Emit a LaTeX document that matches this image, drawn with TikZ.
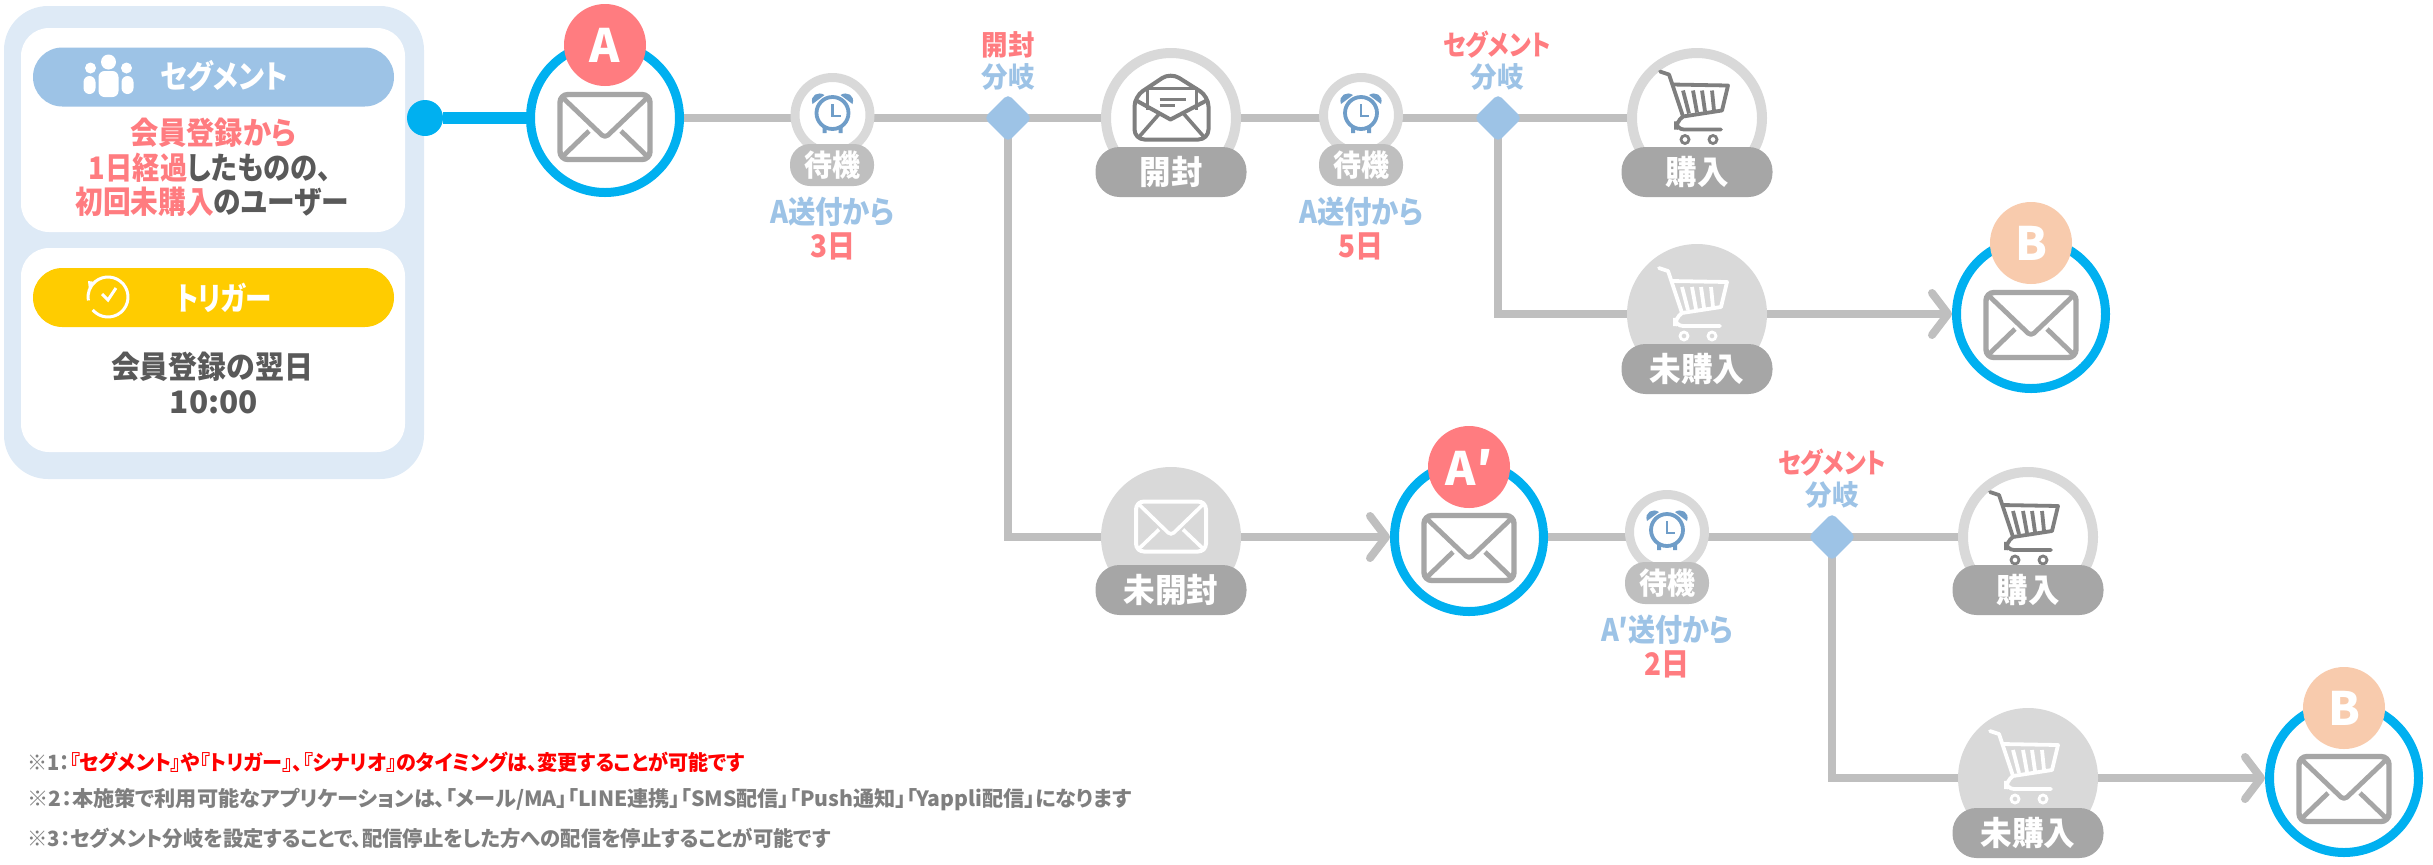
\documentclass[tikz,border=0pt]{standalone}
\usepackage{graphicx}
\usepackage{fontspec}
\setmainfont{Noto Sans CJK JP}[RawFeature=+palt]
\usetikzlibrary{arrows.meta,shapes.geometric}
\pgfdeclarelayer{bg}\pgfsetlayers{bg,main}
\newdimen\pxu \pxu=0.5pt
\newcommand\tw[2]{\resizebox{#1\pxu}{\height}{#2}}
\newcommand\fsz[1]{\bfseries\fontsize{#1}{#1}\selectfont}
\definecolor{panelc}{HTML}{DEEAF6}
\definecolor{segc}{HTML}{9DC3E6}
\definecolor{trigc}{HTML}{FFCC00}
\definecolor{pinkc}{HTML}{FF7C80}
\definecolor{peachc}{HTML}{F8CBAD}
\definecolor{cyanc}{HTML}{00B0F0}
\definecolor{lineg}{HTML}{BFBFBF}
\definecolor{ringg}{HTML}{D9D9D9}
\definecolor{pillg}{HTML}{A6A6A6}
\definecolor{darkg}{HTML}{595959}
\definecolor{noteg}{HTML}{7F7F7F}
\definecolor{clockc}{HTML}{6F9DC8}
\tikzset{
 panel/.style={rectangle,fill=panelc,minimum width=210pt,minimum height=236.5pt,rounded corners=22pt},
 whitebox/.style={rectangle,fill=white,minimum width=192pt,minimum height=102pt,rounded corners=14pt},
 headpill/.style={rectangle,minimum width=180.5pt,minimum height=29.5pt,rounded corners=14.7pt},
 conn/.style={draw=lineg,line width=4pt},
 arrowconn/.style={conn,-{Straight Barb[length=8pt,width=21pt,round]}},
 mailc/.style={circle,draw=cyanc,line width=4.5pt,fill=white,minimum size=74.5pt,inner sep=0pt},
 badge/.style={circle,minimum size=41pt,inner sep=0pt,text=white,font=\fsz{23}},
 waitc/.style={circle,draw=ringg,line width=4.5pt,fill=white,minimum size=37.5pt,inner sep=0pt},
 waitp/.style={rectangle,fill=lineg,minimum width=42pt,minimum height=21pt,rounded corners=10pt,text=white,font=\fsz{15},inner sep=0pt},
 bigc/.style={circle,draw=ringg,line width=5pt,fill=white,minimum size=65pt,inner sep=0pt},
 bigf/.style={circle,fill=ringg,minimum size=70pt,inner sep=0pt},
 statep/.style={rectangle,fill=pillg,minimum width=75.5pt,minimum height=25pt,rounded corners=12pt,text=white,font=\fsz{16.5},inner sep=0pt},
 dia/.style={diamond,fill=segc,minimum width=24pt,minimum height=24pt,inner sep=0pt,rounded corners=2.5pt},
 lab/.style={font=\fsz{14},inner sep=0pt},
 info/.style={font=\fsz{15.5},inner sep=0pt},
 note/.style={font=\fsz{10.5},inner sep=0pt,anchor=west,text=noteg},
 pics/envl/.style={code={
   \draw[#1,line width=2.7pt,rounded corners=4pt] (-45,-32.5) rectangle (45,32.5);
   \draw[#1,line width=2.4pt,line join=round,rounded corners=2pt] (-44,-31) -- (0,11) -- (44,-31);
   \draw[#1,line width=2.4pt] (-44,31) -- (-16,4) (44,31) -- (16,4);
 }},
 pics/envs/.style={code={
   \draw[#1,line width=2pt,rounded corners=4pt] (-35,-25) rectangle (35,25);
   \draw[#1,line width=1.8pt,rounded corners=2pt] (-34,-24) -- (0,9) -- (34,-24);
   \draw[#1,line width=1.8pt] (-34,24) -- (-12,3) (34,24) -- (12,3);
 }},
 pics/envo/.style={code={
   \draw[#1,line width=2pt,line join=round,rounded corners=5pt] (-37,-10) -- (-1,-34) -- (37,-10) -- (37,33) -- (-37,33) -- cycle;
   \draw[#1,line width=1.6pt,fill=white] (-24,3) -- (-24,-18) -- (25,-18) -- (25,3);
   \draw[#1,line width=1.6pt] (-12,-7) -- (14,-7) (-12,-1) -- (3,-1);
   \draw[#1,line width=2pt,line join=round] (-37,-7) -- (-1,13) -- (37,-7);
   \draw[#1,line width=1.8pt] (-33,31) -- (-12,7) (33,31) -- (12,7);
 }},
 pics/cart/.style={code={
   \draw[#1,line width=1.9pt,line cap=round,line join=round] (-34,-36) -- (-25,-33) -- (-11,9);
   \draw[#1,line width=1.9pt,line join=round] (-22,-23) -- (34,-22) -- (28,3) -- (-11,9);
   \draw[#1,line width=1.9pt,line cap=round,rounded corners=4pt] (-11,9) -- (-18,14) -- (-18,22) -- (27,22);
   \draw[#1,line width=1.9pt] (-11,-17) -- (-5,6) (-1,-17) -- (3,5) (8,-17) -- (11,4) (18,-17) -- (20,3);
   \draw[#1,line width=1.4pt] (-9,32) circle (4) (19,32) circle (4);
 }},
 pics/alarm/.style={code={
   \draw[clockc,line width=1.9pt] (0,0) circle (16);
   \fill[clockc] (-20,-9) .. controls (-23,-18) and (-14,-22) .. (-8,-18) -- cycle;
   \fill[clockc] (20,-9) .. controls (23,-18) and (14,-22) .. (8,-18) -- cycle;
   \draw[clockc,line width=1.3pt] (0,-9) -- (0,3) -- (8,3);
   \fill[clockc] (-10,13) rectangle (-6,20) (6,13) rectangle (10,20);
 }},
 pics/people/.style={code={
   \fill[white] (0,-14) circle (7.5) (-18,-8) circle (5.5) (18,-8) circle (5.5);
   \fill[white,rounded corners=3pt] (-10,-5) rectangle (10,21) (-25,0) rectangle (-13,18) (13,0) rectangle (25,18);
 }},
 pics/tickclock/.style={code={
   \draw[white,line width=1.5pt] (140:20) arc (140:-190:20);
   \fill[white] (-19,-7) -- (-12,-15) -- (-20,-16) -- cycle;
   \draw[white,line width=1.5pt] (-6,-3) -- (0,3) -- (8,-9);
 }}
}
\begin{document}
\begin{tikzpicture}[x=0.5pt,y=-0.5pt]
\useasboundingbox (0,0) rectangle (2433,864);
% left panel
\node[panel] (pan) at (214,242.5) {};
\node[whitebox] (wb1) at (213,130) {};
\node[whitebox] (wb2) at (213,350) {};
\node[headpill,fill=segc] (segp) at (213.5,77) {};
\node[headpill,fill=trigc] (trigp) at (213.5,297.5) {};
\pic at (108.5,76) {people};
\pic at (108,297) {tickclock};
\node[info,text=white,font=\fsz{16}] (segt) at (224,76) {\tw{128}{セグメント}};
\node[info,text=white,font=\fsz{16}] (trigt) at (224,298) {\tw{96}{トリガー}};
\node[info,text=pinkc] (s1) at (213,133) {\tw{166}{会員登録から}};
\node[info,text=darkg] (s2) at (210,168) {\tw{242}{\textcolor{pinkc}{1日経過}したものの、}};
\node[info,text=darkg] (s3) at (212,202) {\tw{273}{\textcolor{pinkc}{初回未購入}のユーザー}};
\node[info,text=darkg] (t1) at (212,367) {\tw{202}{会員登録の翌日}};
\node[info,text=darkg] (t2) at (214,402) {\tw{88}{10:00}};
\node[circle,fill=cyanc,minimum size=18pt,inner sep=0pt] (dot) at (425,118) {};
% mails
\node[mailc] (mailA) at (605,118) {};
\pic at (605,127) {envl=pillg};
\node[badge,fill=pinkc] (bA) at (605,45) {A};
\node[mailc] (mailB1) at (2031,314) {};
\pic at (2031,325) {envl=pillg};
\node[badge,fill=peachc] (bB1) at (2031,243) {B};
\node[mailc] (mailAp) at (1469,537) {};
\pic at (1469,548) {envl=pillg};
\node[badge,fill=pinkc] (bAp) at (1469,467) {A′};
\node[mailc] (mailB2) at (2344,778) {};
\pic at (2344,789) {envl=pillg};
\node[badge,fill=peachc] (bB2) at (2344,708) {B};
% waits
\node[waitc] (w1) at (832.5,115) {};
\pic at (832.5,113) {alarm};
\node[waitp] (w1p) at (832,165) {\tw{56}{待機}};
\node[waitc] (w2) at (1361,115) {};
\pic at (1361,113) {alarm};
\node[waitp] (w2p) at (1361,165) {\tw{56}{待機}};
\node[waitc] (w3) at (1667,532) {};
\pic at (1667,530) {alarm};
\node[waitp] (w3p) at (1667,583) {\tw{56}{待機}};
\node[info,text=segc] (w1a) at (832,212) {\tw{124}{A送付から}};
\node[info,text=pinkc] (w1b) at (833,246) {\tw{45}{3日}};
\node[info,text=segc] (w2a) at (1361,212) {\tw{124}{A送付から}};
\node[info,text=pinkc] (w2b) at (1361,246) {\tw{45}{5日}};
\node[info,text=segc] (w3a) at (1667,630) {\tw{132}{A′送付から}};
\node[info,text=pinkc] (w3b) at (1667,664) {\tw{45}{2日}};
% diamonds
\node[dia] (d1) at (1008,118) {};
\node[dia] (d2) at (1498,118) {};
\node[dia] (d3) at (1832,537) {};
\node[lab,text=pinkc] (d1a) at (1008,45) {\tw{53}{開封}};
\node[lab,text=segc] (d1b) at (1008,77) {\tw{53}{分岐}};
\node[lab,text=pinkc] (d2a) at (1497,45) {\tw{108}{セグメント}};
\node[lab,text=segc] (d2b) at (1497,77) {\tw{53}{分岐}};
\node[lab,text=pinkc] (d3a) at (1832,463) {\tw{108}{セグメント}};
\node[lab,text=segc] (d3b) at (1832,495) {\tw{53}{分岐}};
% state circles
\node[bigc] (open) at (1171,118) {};
\pic at (1171.5,106.5) {envo=noteg};
\node[statep] (openp) at (1171,172) {\tw{63}{開封}};
\node[bigc] (buy1) at (1697,118) {};
\pic at (1694,107.5) {cart=noteg};
\node[statep] (buy1p) at (1697,172) {\tw{63}{購入}};
\node[bigf] (nob1) at (1697,314) {};
\pic at (1693,304) {cart=white};
\node[statep] (nob1p) at (1697,369) {\tw{95}{未購入}};
\node[bigf] (unop) at (1171,537) {};
\pic at (1171,526.5) {envs=white};
\node[statep] (unopp) at (1171,590) {\tw{95}{未開封}};
\node[bigc] (buy2) at (2028,537) {};
\pic at (2024,528) {cart=noteg};
\node[statep] (buy2p) at (2028,590) {\tw{63}{購入}};
\node[bigf] (nob2) at (2028,778) {};
\pic at (2024,767) {cart=white};
\node[statep] (nob2p) at (2028,833) {\tw{95}{未購入}};
% notes
\node[note] (n1) at (27,762) {\tw{717}{※1：\textcolor{red}{『セグメント』や『トリガー』、『シナリオ』のタイミングは、変更することが可能です}}};
\node[note] (n2) at (27,800) {\tw{1104}{※2：本施策で利用可能なアプリケーションは、「メール/MA」「LINE連携」「SMS配信」「Push通知」「Yappli配信」になります}};
\node[note] (n3) at (27,838) {\tw{803}{※3：セグメント分岐を設定することで、配信停止をした方への配信を停止することが可能です}};
% connectors
\begin{pgfonlayer}{bg}
\draw[draw=cyanc,line width=6pt] (dot) -- (mailA);
\draw[conn] (mailA) -- (mailA -| w1);
\draw[conn] (mailA -| w1) -- (d1.center);
\draw[conn] (d1.center) -- (open);
\draw[conn] (open) -- (open -| w2);
\draw[conn] (open -| w2) -- (d2.center);
\draw[conn] (d2.center) -- (buy1);
\draw[conn] (d2.center) |- (nob1);
\draw[arrowconn] (nob1) -- (mailB1);
\draw[conn] (d1.center) |- (unop);
\draw[arrowconn] (unop) -- (mailAp);
\draw[conn] (mailAp) -- (mailAp -| w3);
\draw[conn] (mailAp -| w3) -- (d3.center);
\draw[conn] (d3.center) -- (buy2);
\draw[conn] (d3.center) |- (nob2);
\draw[arrowconn] (nob2) -- (mailB2);
\end{pgfonlayer}
\end{tikzpicture}
\end{document}
